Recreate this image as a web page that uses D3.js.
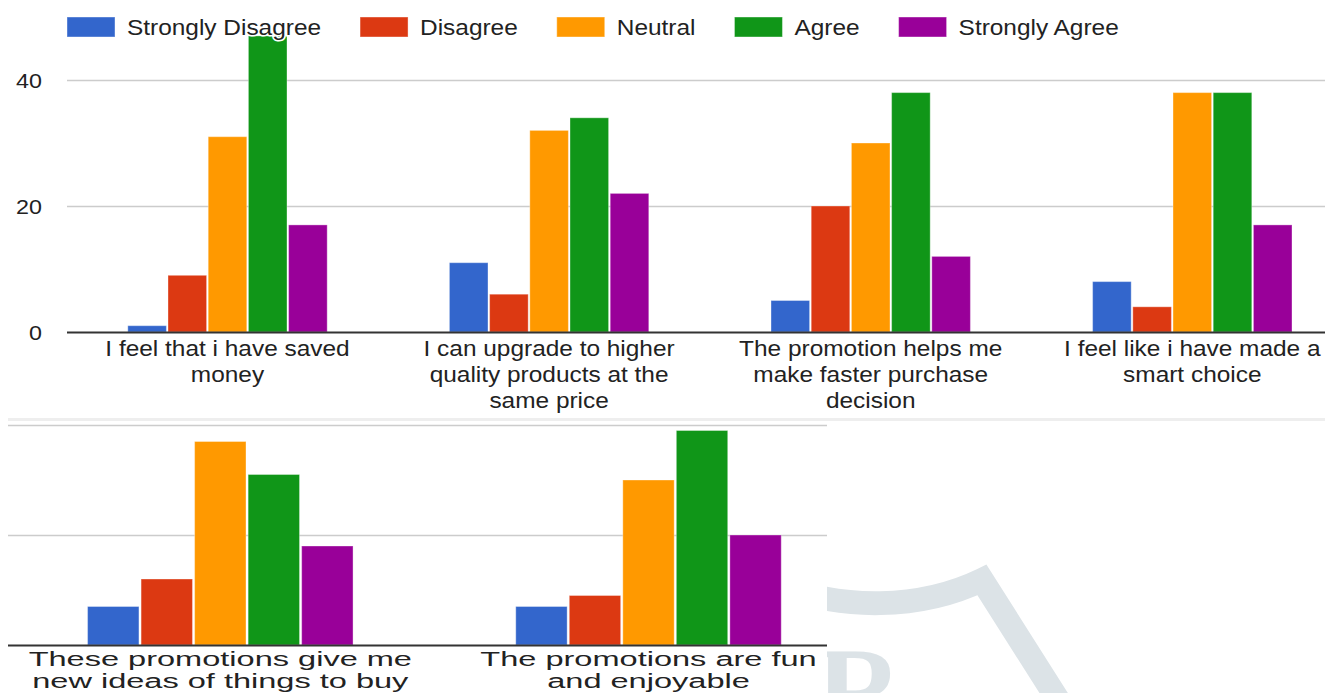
<!DOCTYPE html>
<html>
<head>
<meta charset="utf-8">
<script src="https://cdn.jsdelivr.net/npm/d3@7"></script>
<style>
  html, body { margin: 0; padding: 0; background: #fff; }
  svg { display: block; font-family: "Liberation Sans", Arial, sans-serif; }
</style>
</head>
<body>
<svg id="chart" width="1325" height="693"></svg>
<script>
// Survey answers: number of respondents per statement and answer.
const seriesNames = ["Strongly Disagree", "Disagree", "Neutral", "Agree", "Strongly Agree"];
const seriesColors = ["#3366cc", "#dc3912", "#ff9900", "#109618", "#990099"];

const topCategories = [
  "I feel that i have saved money",
  "I can upgrade to higher quality products at the same price",
  "The promotion helps me make faster purchase decision",
  "I feel like i have made a smart choice"
];
const bottomCategories = [
  "These promotions give me new ideas of things to buy",
  "The promotions are fun and enjoyable"
];

// One value per statement, top four first, then the bottom two.
const stronglyDisagree = [1, 11, 5, 8, 7, 7];
const disagree         = [9, 6, 20, 4, 12, 9];
const neutral          = [31, 32, 30, 38, 37, 30];
const agree            = [47, 34, 38, 38, 31, 39];
const stronglyAgree    = [17, 22, 12, 17, 18, 20];

const yTicks = [0, 20, 40];
const yTickLabels = ["0", "20", "40"];

const seriesValues = [stronglyDisagree, disagree, neutral, agree, stronglyAgree];
const svg = d3.select("#chart");
const textColor = "#222";

// ---- faint watermark behind the lower right corner ----
const defs = svg.append("defs");
defs.append("clipPath").attr("id", "wm-clip")
  .append("rect").attr("x", 827).attr("y", 421).attr("width", 500).attr("height", 280);
const wm = svg.append("g").attr("clip-path", "url(#wm-clip)");
wm.append("path")
  .attr("d", "M780,585 C840,610 920,610 982,580 L1060,703")
  .attr("fill", "none").attr("stroke", "#dce3e7").attr("stroke-width", 24)
  .attr("stroke-linejoin", "miter");
wm.append("text")
  .attr("x", 816).attr("y", 731)
  .attr("font-family", "'Liberation Serif', 'DejaVu Serif', serif")
  .attr("font-weight", "bold").attr("font-size", 120)
  .attr("fill", "#dce3e7").text("R");

// separator between the two charts
svg.append("line")
  .attr("x1", 8).attr("x2", 1325).attr("y1", 419.5).attr("y2", 419.5)
  .attr("stroke", "#eeeeee").attr("stroke-width", 3);

// greedy word wrap measured on unscaled text
const measurer = svg.append("text").attr("visibility", "hidden");
function wrapWords(str, fontSize, maxWidth) {
  measurer.attr("font-size", fontSize);
  const words = str.split(" ");
  const lines = [];
  let line = "";
  words.forEach(w => {
    const trial = line ? line + " " + w : w;
    measurer.text(trial);
    if (line && measurer.node().getComputedTextLength() > maxWidth) {
      lines.push(line);
      line = w;
    } else {
      line = trial;
    }
  });
  if (line) lines.push(line);
  return lines;
}

function drawPanel(cfg) {
  const g = svg.append("g");
  const x0 = d3.scaleBand().domain(cfg.categories).range(cfg.xRange).padding(0);
  const bw = x0.bandwidth();
  const groupFrac = 0.62;
  const x1 = d3.scaleBand().domain(seriesNames)
    .range([bw * (1 - groupFrac) / 2, bw * (1 + groupFrac) / 2])
    .paddingInner(0.04);
  const y = d3.scaleLinear().domain([0, 40]).range(cfg.yRange);

  // gridlines
  g.selectAll(".grid").data(yTicks.filter(t => t > 0)).join("line")
    .attr("x1", cfg.gridX[0]).attr("x2", cfg.gridX[1])
    .attr("y1", d => Math.round(y(d)) + 0.5).attr("y2", d => Math.round(y(d)) + 0.5)
    .attr("stroke", "#cccccc").attr("stroke-width", 1.5);

  // bars
  const groups = g.selectAll(".grp").data(cfg.categories).join("g")
    .attr("transform", d => `translate(${x0(d)},0)`);
  groups.selectAll("rect")
    .data((d, ci) => seriesNames.map((s, si) => ({ s, si, v: seriesValues[si][cfg.offset + ci] })))
    .join("rect")
    .attr("x", d => x1(d.s))
    .attr("width", x1.bandwidth())
    .attr("y", d => y(d.v))
    .attr("height", d => y(0) - y(d.v))
    .attr("fill", d => seriesColors[d.si])
    .attr("stroke", "#ffffff").attr("stroke-opacity", 0.35).attr("stroke-width", 1);

  // baseline
  g.append("line")
    .attr("x1", cfg.gridX[0]).attr("x2", cfg.gridX[1])
    .attr("y1", y(0) + 0.5).attr("y2", y(0) + 0.5)
    .attr("stroke", "#333333").attr("stroke-width", 2);

  // y tick labels
  if (cfg.showYLabels) {
    g.selectAll(".ytick").data(yTicks).join("text")
      .attr("transform", d => `translate(42,${y(d) + 7.5}) scale(${cfg.stretch},1)`)
      .attr("text-anchor", "end")
      .attr("font-size", 21)
      .attr("fill", textColor)
      .text((d, i) => yTickLabels[i]);
  }

  // category labels
  cfg.categories.forEach(cat => {
    const lines = wrapWords(cat, cfg.fontSize, cfg.wrapWidth);
    const t = g.append("text")
      .attr("transform", `translate(${x0(cat) + bw / 2},${cfg.labelY}) scale(${cfg.stretch},1)`)
      .attr("text-anchor", "middle")
      .attr("font-size", cfg.fontSize)
      .attr("fill", textColor);
    lines.forEach((ln, i) => {
      t.append("tspan").attr("x", 0).attr("y", i * cfg.lineHeight).text(ln);
    });
  });
  return g;
}

// upper chart: four statements with value axis
drawPanel({
  categories: topCategories, offset: 0,
  xRange: [66.7, 1353.1], yRange: [332, 80], gridX: [67, 1325],
  fontSize: 22, stretch: 1.11, lineHeight: 26, labelY: 356, wrapWidth: 250,
  showYLabels: true
});

// lower chart: two statements
drawPanel({
  categories: bottomCategories, offset: 4,
  xRange: [6.2, 862.6], yRange: [645, 425], gridX: [8, 827],
  fontSize: 21, stretch: 1.55, lineHeight: 22, labelY: 666, wrapWidth: 252,
  showYLabels: false
});

// legend
let lx = 67;
const legend = svg.append("g");
seriesNames.forEach((name, i) => {
  legend.append("rect")
    .attr("x", lx).attr("y", 17).attr("width", 48).attr("height", 20)
    .attr("fill", seriesColors[i])
    .attr("stroke", "#ffffff").attr("stroke-opacity", 0.4).attr("stroke-width", 1);
  const tx = lx + 60;
  const t = legend.append("text")
    .attr("transform", `translate(${tx},34.5) scale(1.11,1)`)
    .attr("font-size", 22)
    .attr("fill", textColor)
    .attr("stroke", "#ffffff").attr("stroke-width", 3)
    .attr("paint-order", "stroke")
    .text(name);
  const w = t.node().getComputedTextLength() * 1.11;
  lx = tx + w + 39;
});
measurer.remove();
</script>
</body>
</html>
